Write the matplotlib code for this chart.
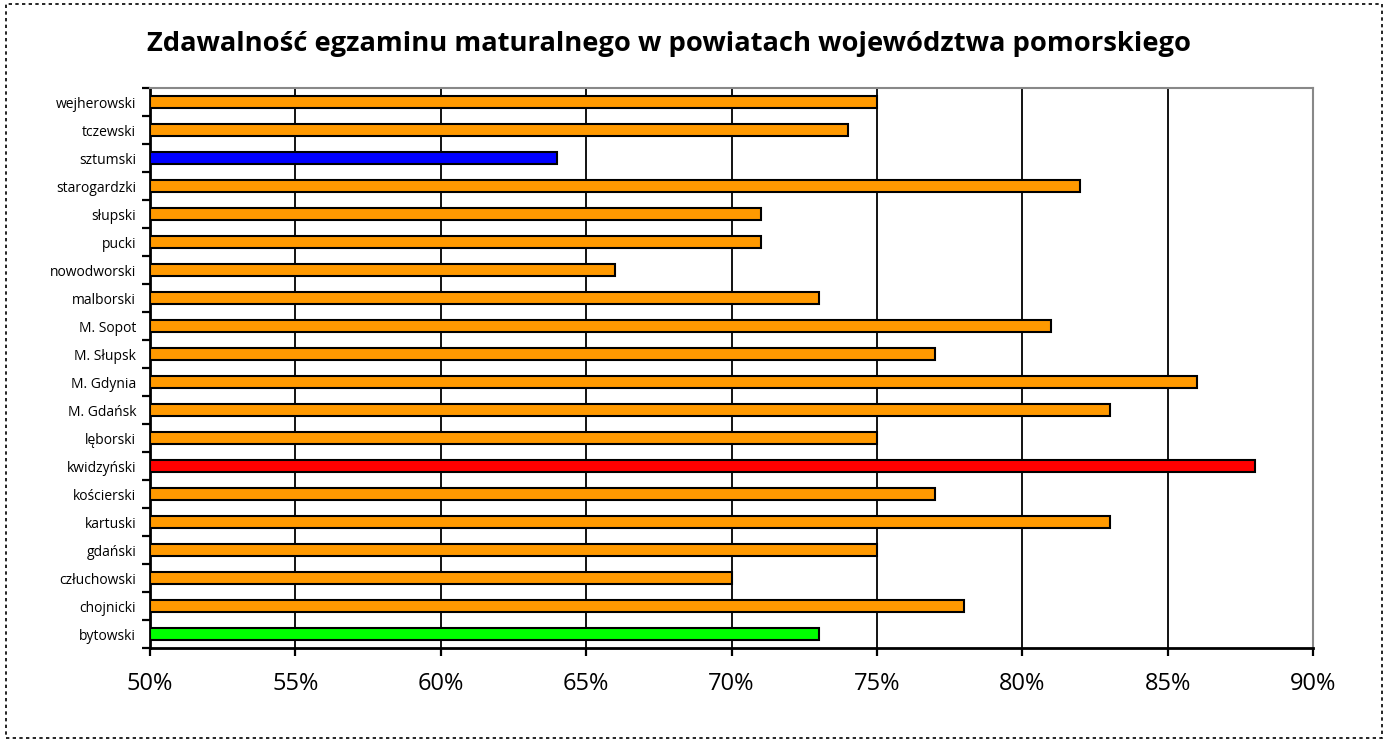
import matplotlib
matplotlib.use("Agg")
import matplotlib.pyplot as plt
from matplotlib.patches import Rectangle
from matplotlib.ticker import FixedLocator, PercentFormatter

plt.rcParams['font.family'] = ['Open Sans', 'DejaVu Sans']

# powiaty, od dołu do góry
powiaty = ["bytowski", "chojnicki", "człuchowski", "gdański", "kartuski",
           "kościerski", "kwidzyński", "lęborski", "M. Gdańsk", "M. Gdynia",
           "M. Słupsk", "M. Sopot", "malborski", "nowodworski", "pucki",
           "słupski", "starogardzki", "sztumski", "tczewski", "wejherowski"]
zdawalnosc = [73, 78, 70, 75, 83, 77, 88, 75, 83, 86,
              77, 81, 73, 66, 71, 71, 82, 64, 74, 75]
kolory = ["#00FF00"] + ["#FF9900"] * 5 + ["#FF0000"] + ["#FF9900"] * 10 + ["#0000FF"] + ["#FF9900"] * 2
x_ticks = [50, 55, 60, 65, 70, 75, 80, 85, 90]

fig = plt.figure(figsize=(13.88, 7.4), dpi=100)
ax = fig.add_axes([0.1081, 0.1243, 0.8379, 0.7567])

y = list(range(len(powiaty)))
ax.barh(y, [v - 50 for v in zdawalnosc], left=50, height=0.45,
        color=kolory, edgecolor="black", linewidth=1.5, zorder=3)

ax.set_xlim(50, 90)
ax.set_ylim(-0.5, len(powiaty) - 0.5)
ax.xaxis.set_major_locator(FixedLocator(x_ticks))
ax.xaxis.set_major_formatter(PercentFormatter(decimals=0))
ax.grid(axis="x", color="black", linewidth=1.3, zorder=1)

ax.set_yticks(y)
ax.set_yticklabels(powiaty, fontsize=10)
ax.tick_params(axis="y", which="major", length=0, pad=10)
ax.set_yticks([i - 0.5 for i in range(len(powiaty) + 1)], minor=True)
ax.tick_params(axis="y", which="minor", length=6, width=1.6, direction="out")
ax.tick_params(axis="x", length=6, width=1.6, direction="out", labelsize=17, pad=11)

ax.spines["left"].set_linewidth(2)
ax.spines["bottom"].set_linewidth(2)
ax.spines["top"].set_color("#888888")
ax.spines["right"].set_color("#888888")
ax.spines["top"].set_linewidth(1.5)
ax.spines["right"].set_linewidth(1.5)

fig.text(0.4817, 0.941, "Zdawalność egzaminu maturalnego w powiatach województwa pomorskiego",
         ha="center", va="center", fontsize=19.7, fontweight="bold")

fig.patches.append(Rectangle((0.004, 0.003), 0.992, 0.992, transform=fig.transFigure,
                             fill=False, edgecolor="black", linewidth=1.2,
                             linestyle=(0, (2, 2))))

fig.savefig("out.png", dpi=100)
